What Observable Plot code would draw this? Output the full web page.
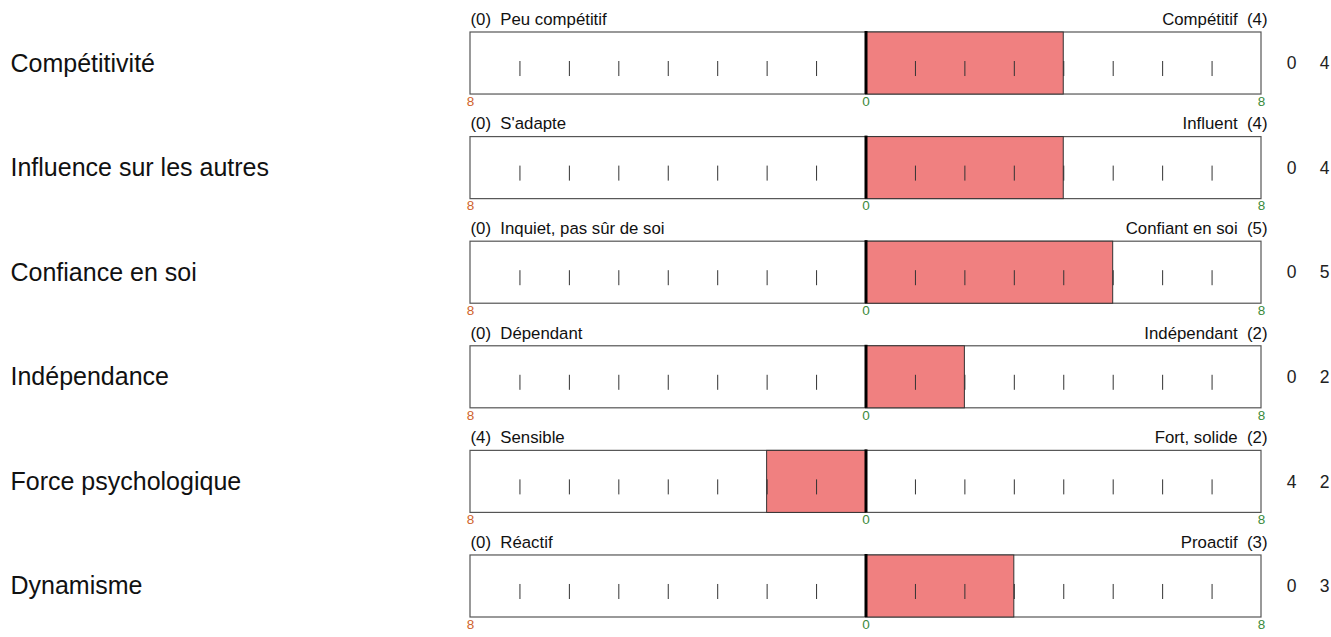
<!DOCTYPE html>
<html>
<head>
<meta charset="utf-8">
<script src="https://cdn.jsdelivr.net/npm/d3@7"></script>
<script src="https://cdn.jsdelivr.net/npm/@observablehq/plot@0.6"></script>
<style>
  html, body { margin: 0; padding: 0; background: #fff; }
  #chart svg { display: block; font-family: "Liberation Sans", Arial, sans-serif; }
</style>
</head>
<body>
<div id="chart"></div>
<script>
const names = ["Compétitivité", "Influence sur les autres", "Confiance en soi", "Indépendance", "Force psychologique", "Dynamisme"];
const leftLabels = ["Peu compétitif", "S'adapte", "Inquiet, pas sûr de soi", "Dépendant", "Sensible", "Réactif"];
const rightLabels = ["Compétitif", "Influent", "Confiant en soi", "Indépendant", "Fort, solide", "Proactif"];
const leftScores = [0, 0, 0, 0, 4, 0];
const rightScores = [4, 4, 5, 2, 2, 3];
const scaleMax = 8;
const innerTicks = [-7, -6, -5, -4, -3, -2, -1, 1, 2, 3, 4, 5, 6, 7];
const scaleLabels = [-8, 0, 8];

const rows = names.map((name, i) => ({
  name,
  leftLabel: leftLabels[i],
  rightLabel: rightLabels[i],
  left: leftScores[i],
  right: rightScores[i],
  net: rightScores[i] - leftScores[i]
}));
const tickData = rows.flatMap(r => innerTicks.map(t => ({name: r.name, x: t})));
const labelData = rows.flatMap(r => scaleLabels.map(t => ({name: r.name, x: t})));

const chart = Plot.plot({
  width: 1331,
  height: 637,
  marginLeft: 470,
  marginRight: 70,
  marginTop: 32,
  marginBottom: 20,
  x: {domain: [-scaleMax, scaleMax], axis: null},
  y: {type: "band", domain: names, paddingInner: 0.407, paddingOuter: 0, round: false, axis: null},
  marks: [
    Plot.barX(rows, {x1: -scaleMax, x2: scaleMax, y: "name", fill: "white", stroke: "#555", strokeWidth: 1.2}),
    Plot.barX(rows, {x1: 0, x2: "net", y: "name", fill: "#f08080", stroke: "#333", strokeWidth: 1}),
    Plot.tickX(tickData, {x: "x", y: "name", stroke: "#333", strokeWidth: 1, insetTop: 29, insetBottom: 18}),
    Plot.tickX(rows, {x: 0, y: "name", stroke: "#000", strokeWidth: 3, insetTop: -1}),
    Plot.text(rows, {x: -scaleMax, y: "name", text: d => `(${d.left})\u00a0 ${d.leftLabel}`, textAnchor: "start", dy: -44, fontSize: 16.8, fill: "#111"}),
    Plot.text(rows, {x: scaleMax, y: "name", text: d => `${d.rightLabel}\u00a0 (${d.right})`, textAnchor: "end", dy: -44, dx: 6, fontSize: 16.8, fill: "#111"}),
    Plot.text(labelData, {x: "x", y: "name", text: d => String(Math.abs(d.x)), dy: 38, fontSize: 13.5, fill: d => d.x < 0 ? "#d0622c" : "#3b8a3b"}),
    Plot.text(rows, {x: scaleMax, y: "name", text: d => String(d.left), dx: 30, fontSize: 17.5, fill: "#222"}),
    Plot.text(rows, {x: scaleMax, y: "name", text: d => String(d.right), dx: 63, fontSize: 17.5, fill: "#222"}),
    Plot.text(rows, {x: -scaleMax, y: "name", text: "name", dx: -460, textAnchor: "start", fontSize: 25, fill: "#111"})
  ]
});
document.getElementById("chart").appendChild(chart);
</script>
</body>
</html>
